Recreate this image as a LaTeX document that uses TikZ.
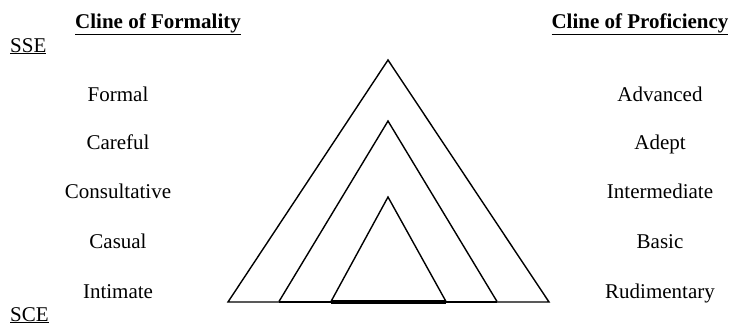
\documentclass[tikz,border=0pt]{standalone}
\usepackage{fontspec}
\setmainfont{Liberation Serif}
\begin{document}
\begin{tikzpicture}[x=1pt,y=-1pt,
  lbl/.style={anchor=base,inner sep=0pt,font=\fontsize{21}{25}\selectfont},
  head/.style={anchor=base,inner sep=0pt,font=\fontsize{21}{25}\selectfont\bfseries},
  tri/.style={draw=black,line width=1.4pt,line join=miter}]
\useasboundingbox (0,0) rectangle (732,325);
% headings
\node[head] (hf) at (158,28) {\underline{Cline of Formality}};
\node[head] (hp) at (640,28) {\underline{Cline of Proficiency}};
\node[lbl,anchor=base west] (sse) at (10,52) {\underline{SSE}};
\node[lbl,anchor=base west] (sce) at (10,321) {\underline{SCE}};
% left labels
\node[lbl] (l1) at (118,101) {Formal};
\node[lbl] (l2) at (118,149) {Careful};
\node[lbl] (l3) at (118,198) {Consultative};
\node[lbl] (l4) at (118,248) {Casual};
\node[lbl] (l5) at (118,298) {Intimate};
% right labels
\node[lbl] (r1) at (660,101) {Advanced};
\node[lbl] (r2) at (660,149) {Adept};
\node[lbl] (r3) at (660,198) {Intermediate};
\node[lbl] (r4) at (660,248) {Basic};
\node[lbl] (r5) at (660,298) {Rudimentary};
% triangles
\draw[tri] (228,302) -- (388,60) -- (549,302) -- cycle;
\draw[tri] (279,301.5) -- (388,121) -- (497,301.5);
\draw[tri,line width=2pt] (279,301.5) -- (497,301.5);
\draw[tri] (331,301.5) -- (388,197) -- (446,301.5);
\draw[tri,line width=3.2pt,line cap=butt] (331,302) -- (446,302);
\end{tikzpicture}
\end{document}
